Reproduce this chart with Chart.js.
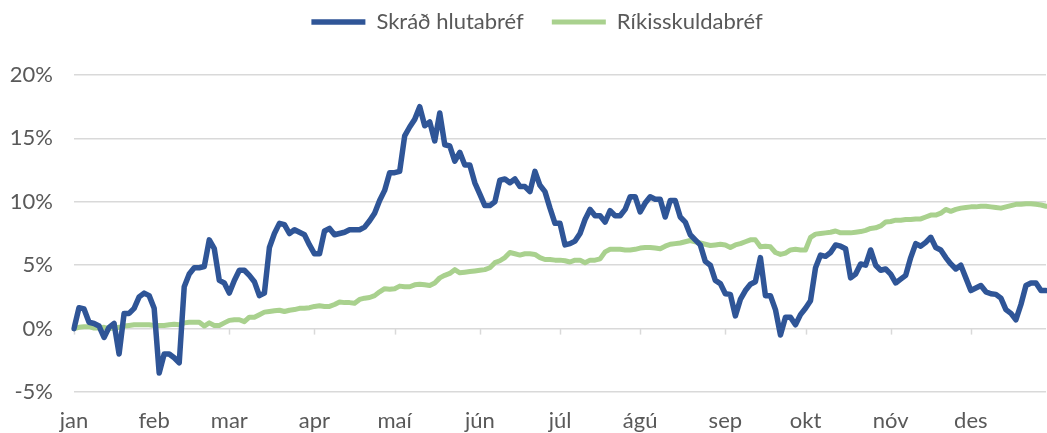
<!DOCTYPE html>
<html>
<head>
<meta charset="utf-8">
<script src="https://cdn.jsdelivr.net/npm/chart.js@4.4.0/dist/chart.umd.min.js"></script>
<style>
    html, body { margin: 0; padding: 0; background: #fff; }
    #wrap { width: 1047px; height: 433px; }
</style>
</head>
<body>
<div id="wrap"><canvas id="chart"></canvas></div>
<script>
// Mánuðir og staðsetning fyrsta punkts hvers mánaðar
const monthNames = ['jan', 'feb', 'mar', 'apr', 'maí', 'jún', 'júl', 'ágú', 'sep', 'okt', 'nóv', 'des'];
const monthStart = [0, 16, 31, 48, 64, 81, 97, 113, 130, 146, 163, 179];

// Ávöxtun frá áramótum (%)
const hlutabref = [
    0.0, 1.65, 1.55, 0.5, 0.4, 0.2, -0.7, 0.1, 0.4, -2.0,
    1.2, 1.2, 1.6, 2.5, 2.8, 2.6, 1.6, -3.5, -2.0, -2.0,
    -2.3, -2.7, 3.3, 4.3, 4.8, 4.8, 4.9, 7.0, 6.3, 3.8,
    3.6, 2.8, 3.8, 4.6, 4.6, 4.2, 3.7, 2.6, 2.8, 6.4,
    7.5, 8.3, 8.2, 7.5, 7.8, 7.6, 7.4, 6.6, 5.9, 5.9,
    7.7, 7.9, 7.4, 7.5, 7.6, 7.8, 7.8, 7.8, 8.0, 8.5,
    9.1, 10.1, 10.9, 12.3, 12.3, 12.4, 15.2, 15.9, 16.5, 17.5,
    16.0, 16.3, 14.8, 17.0, 14.5, 14.4, 13.2, 13.9, 12.9, 12.9,
    11.5, 10.6, 9.7, 9.7, 10.0, 11.7, 11.8, 11.5, 11.8, 11.2,
    11.2, 10.8, 12.4, 11.3, 10.8, 9.5, 8.3, 8.3, 6.6, 6.7,
    6.9, 7.5, 8.6, 9.4, 8.9, 8.9, 8.4, 9.3, 8.9, 8.9,
    9.4, 10.4, 10.4, 9.2, 9.9, 10.4, 10.2, 10.2, 8.8, 10.1,
    10.1, 8.8, 8.4, 7.4, 7.0, 6.6, 5.3, 5.0, 3.8, 3.55,
    2.75, 2.7, 1.0, 2.3, 3.0, 3.5, 3.7, 5.6, 2.6, 2.6,
    1.5, -0.5, 0.9, 0.9, 0.3, 1.1, 1.6, 2.2, 4.8, 5.8,
    5.7, 6.0, 6.6, 6.5, 6.3, 4.0, 4.3, 5.1, 5.0, 6.2,
    5.0, 4.6, 4.7, 4.3, 3.6, 3.9, 4.2, 5.6, 6.7, 6.5,
    6.8, 7.2, 6.4, 6.2, 5.6, 5.1, 4.7, 5.0, 4.0, 3.0,
    3.2, 3.4, 2.9, 2.75, 2.7, 2.4, 1.5, 1.2, 0.7, 1.9,
    3.4, 3.6, 3.6, 3.0, 3.0
];

const rikisskuldabref = [
    0.0, 0.1, 0.15, 0.15, 0.05, 0.05, 0.1, 0.0, 0.05, 0.1,
    0.2, 0.25, 0.3, 0.3, 0.3, 0.3, 0.25, 0.25, 0.25, 0.3,
    0.35, 0.3, 0.45, 0.5, 0.5, 0.5, 0.2, 0.45, 0.25, 0.25,
    0.45, 0.65, 0.7, 0.7, 0.55, 0.9, 0.9, 1.1, 1.3, 1.35,
    1.4, 1.45, 1.35, 1.45, 1.5, 1.6, 1.6, 1.65, 1.75, 1.8,
    1.75, 1.75, 1.9, 2.1, 2.05, 2.05, 2.0, 2.3, 2.4, 2.45,
    2.6, 2.9, 3.15, 3.1, 3.15, 3.35, 3.3, 3.3, 3.45, 3.5,
    3.45, 3.4, 3.6, 4.0, 4.2, 4.35, 4.65, 4.4, 4.45, 4.5,
    4.55, 4.6, 4.65, 4.8, 5.2, 5.35, 5.6, 6.0, 5.9, 5.8,
    5.9, 5.9, 5.85, 5.6, 5.45, 5.45, 5.4, 5.4, 5.35, 5.25,
    5.4, 5.4, 5.2, 5.4, 5.4, 5.5, 6.05, 6.25, 6.25, 6.25,
    6.2, 6.2, 6.25, 6.35, 6.4, 6.4, 6.35, 6.3, 6.5, 6.65,
    6.7, 6.75, 6.85, 6.95, 6.85, 6.75, 6.65, 6.55, 6.6, 6.65,
    6.6, 6.4, 6.6, 6.7, 6.85, 7.0, 7.0, 6.45, 6.5, 6.45,
    6.0, 5.85, 5.95, 6.2, 6.25, 6.2, 6.2, 7.2, 7.45, 7.5,
    7.55, 7.6, 7.7, 7.55, 7.55, 7.55, 7.6, 7.65, 7.75, 7.9,
    7.95, 8.1, 8.4, 8.45, 8.55, 8.55, 8.6, 8.6, 8.65, 8.65,
    8.8, 8.95, 8.95, 9.1, 9.4, 9.25, 9.4, 9.5, 9.55, 9.6,
    9.6, 9.65, 9.65, 9.6, 9.55, 9.5, 9.6, 9.7, 9.8, 9.8,
    9.85, 9.85, 9.8, 9.75, 9.65
];

// Flokkar: nafn mánaðar við fyrsta punkt hans, annars tómt
const labels = hlutabref.map((_, i) => {
    const m = monthStart.indexOf(i);
    return m >= 0 ? monthNames[m] : '';
});

const textColor = '#595959';
const gridColor = '#d9d9d9';
const fontFamily = 'Lato, "Open Sans", sans-serif';

// Hæð skýringar svo teiknisvæðið byrji á réttum stað
const legendSpacer = {
    id: 'legendSpacer',
    beforeInit(chart) {
        const origFit = chart.legend.fit;
        chart.legend.fit = function () {
            origFit.call(this);
            this.height = 92;
        };
    },
    afterLayout(chart) {
        // miðja skýringuna eins og í Excel (án aftasta bils)
        chart.legend.left += 14;
        chart.legend.right += 14;
    }
};

// Litlu strikin á 0% línunni
const monthTicks = {
    id: 'monthTicks',
    beforeDatasetsDraw(chart) {
        const { ctx, scales: { x, y } } = chart;
        const y0 = y.getPixelForValue(0);
        ctx.save();
        ctx.strokeStyle = gridColor;
        ctx.lineWidth = 1.5;
        monthStart.forEach(i => {
            const px = Math.round(x.getPixelForValue(i)) + 0.5;
            ctx.beginPath();
            ctx.moveTo(px, y0);
            ctx.lineTo(px, y0 + 6);
            ctx.stroke();
        });
        ctx.restore();
    }
};

const config = {
    type: 'line',
    data: {
        labels: labels,
        datasets: [{
            label: 'Skráð hlutabréf',
            data: hlutabref,
            borderColor: '#2f5597',
            backgroundColor: '#2f5597',
            borderWidth: 5.5,
            pointRadius: 0,
            tension: 0,
            borderJoinStyle: 'round',
            borderCapStyle: 'round'
        }, {
            label: 'Ríkisskuldabréf',
            data: rikisskuldabref,
            borderColor: '#a9d18e',
            backgroundColor: '#a9d18e',
            borderWidth: 5,
            pointRadius: 0,
            tension: 0,
            borderJoinStyle: 'round',
            borderCapStyle: 'round'
        }]
    },
    options: {
        responsive: true,
        maintainAspectRatio: false,
        animation: false,
        layout: { padding: { top: -17, right: 1, bottom: 0, left: 0 } },
        plugins: {
            tooltip: { enabled: false },
            legend: {
                position: 'top',
                labels: {
                    usePointStyle: true,
                    pointStyle: 'line',
                    pointStyleWidth: 54,
                    padding: 28,
                    color: textColor,
                    font: { family: fontFamily, size: 22 }
                }
            }
        },
        scales: {
            x: {
                grid: { display: false, drawTicks: false },
                border: { display: false },
                afterFit(scale) { scale.height = 41; },
                ticks: {
                    autoSkip: false,
                    maxRotation: 0,
                    minRotation: 0,
                    padding: 16,
                    color: textColor,
                    font: { family: fontFamily, size: 22 },
                    callback: function (value, index) {
                        const lbl = this.getLabelForValue(value);
                        return lbl === '' ? null : lbl;
                    }
                }
            },
            y: {
                min: -5,
                max: 20,
                afterFit(scale) { scale.width = 74; },
                grid: { color: gridColor, lineWidth: 1.5, drawTicks: false },
                border: { display: false },
                ticks: {
                    stepSize: 5,
                    padding: 21,
                    color: textColor,
                    font: { family: fontFamily, size: 22 },
                    callback: v => v + '%'
                }
            }
        }
    },
    plugins: [legendSpacer, monthTicks]
};

const ctx = document.getElementById('chart').getContext('2d');
const chart = new Chart(ctx, config);
</script>
</body>
</html>
